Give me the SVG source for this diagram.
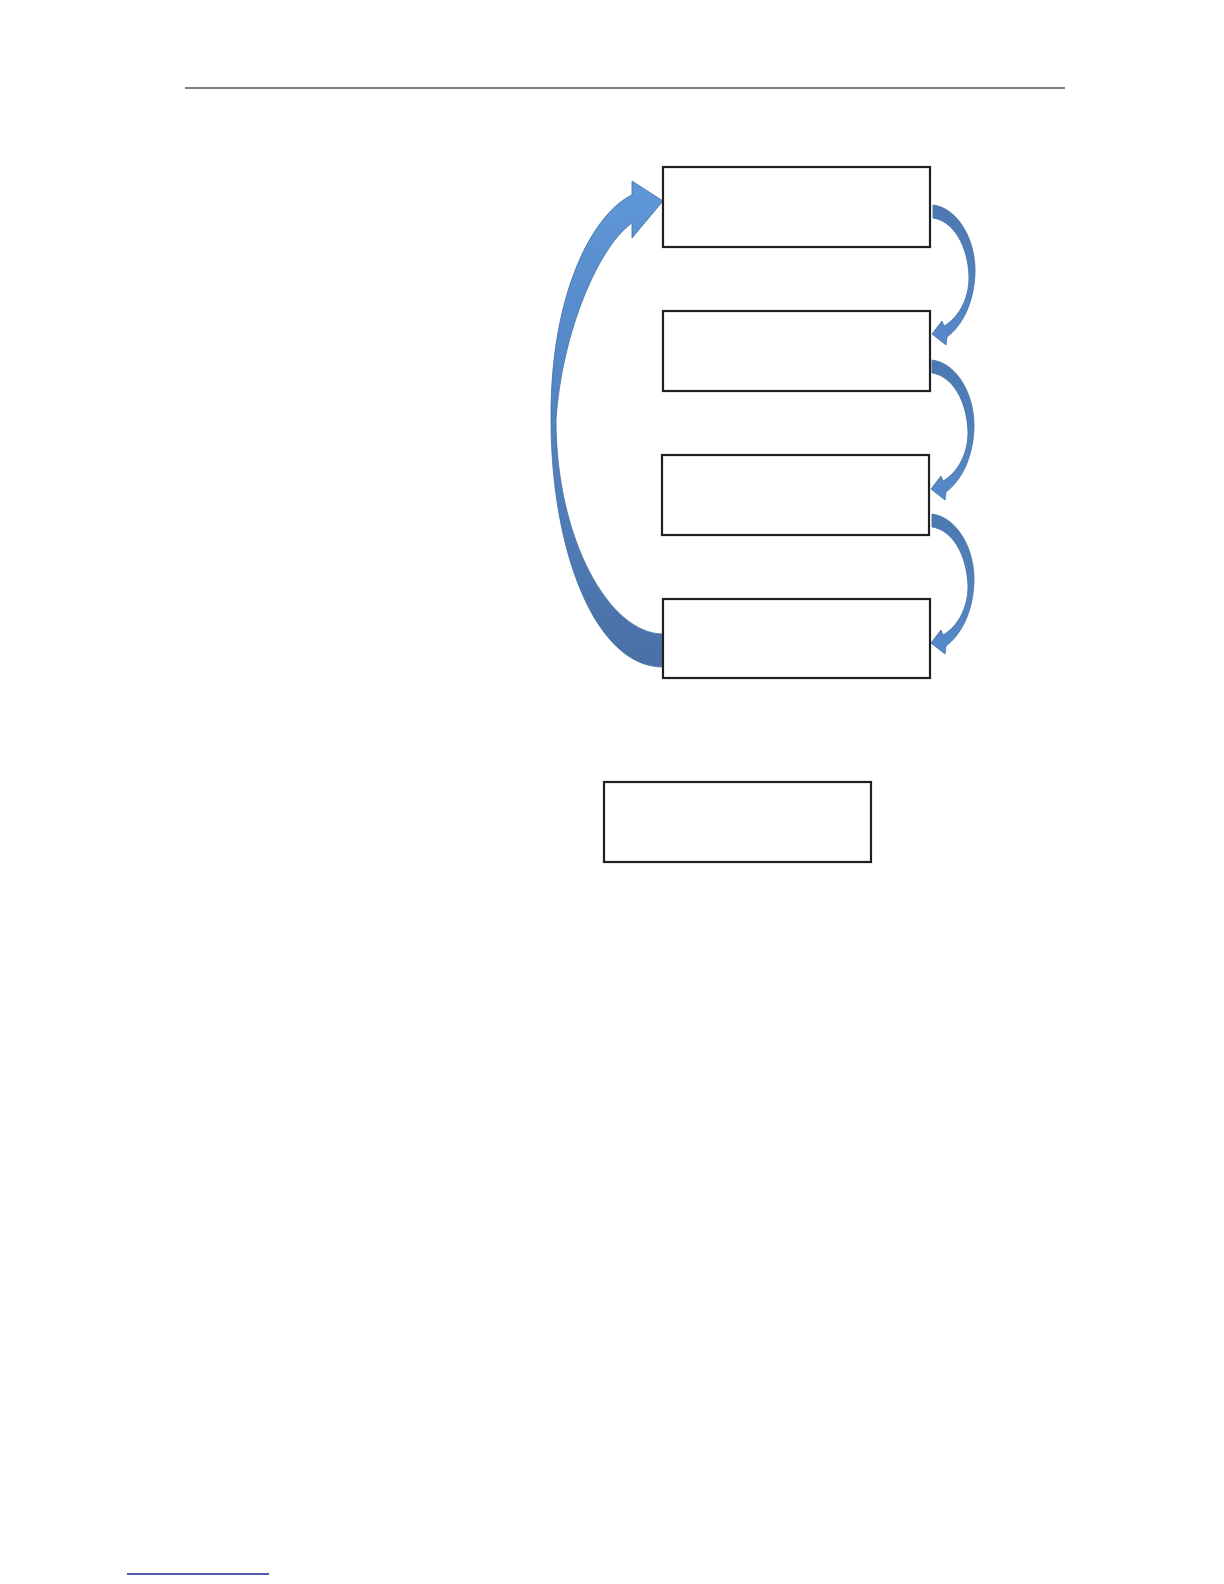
<svg xmlns="http://www.w3.org/2000/svg" width="1224" height="1584" viewBox="0 0 1224 1584">
  <style>
    .box { fill: #ffffff; stroke: #1f1f1f; stroke-width: 2.2; }
    .arrow { stroke: #44709f; stroke-width: 0.8; stroke-linejoin: round; }
    .rule { stroke: #000000; stroke-width: 1; }
    .foot { stroke: #1f1f99; stroke-width: 1.4; }
  </style>
  <defs>
    <linearGradient id="gBig" x1="0" y1="0" x2="0" y2="1">
      <stop offset="0" stop-color="#5f97d8"/>
      <stop offset="0.5" stop-color="#5283c2"/>
      <stop offset="1" stop-color="#4a70a6"/>
    </linearGradient>
    <linearGradient id="gSmall" x1="0" y1="0" x2="0" y2="1">
      <stop offset="0" stop-color="#4b78b0"/>
      <stop offset="1" stop-color="#5689cb"/>
    </linearGradient>
    <path id="smallArrow" d="M933,205 C958,208 976,240 975,273 C974,303 962,326 947,337 L946,345 L932,334 L942,321 L944,326 C958,318 969,300 969,277 C968,245 953,221 933,218 Z"/>
  </defs>
  <rect width="1224" height="1584" fill="#ffffff"/>
  <line class="rule" x1="185" y1="88" x2="1065" y2="88"/>
  <line class="foot" x1="127" y1="1574" x2="269" y2="1574"/>

  <g id="connectors">
    <path id="loop-back" class="arrow" fill="url(#gBig)" d="M663,201 L632,181 L632,195 C595,212 550,290 551,420 C551,550 595,667 663,667 L663,634 C610,634 556,540 556,420 C562,330 600,245 632,223 L632,238 Z"/>
    <use id="a1-2" href="#smallArrow" class="arrow" fill="url(#gSmall)"/>
    <use id="a2-3" href="#smallArrow" class="arrow" fill="url(#gSmall)" transform="translate(-1,155)"/>
    <use id="a3-4" href="#smallArrow" class="arrow" fill="url(#gSmall)" transform="translate(-1,309)"/>
  </g>

  <g id="node1"><rect class="box" x="663" y="167" width="267" height="80"/></g>
  <g id="node2"><rect class="box" x="663" y="311" width="267" height="80"/></g>
  <g id="node3"><rect class="box" x="662" y="455" width="267" height="80"/></g>
  <g id="node4"><rect class="box" x="663" y="599" width="267" height="79"/></g>
  <g id="node5"><rect class="box" x="604" y="782" width="267" height="80"/></g>
</svg>
